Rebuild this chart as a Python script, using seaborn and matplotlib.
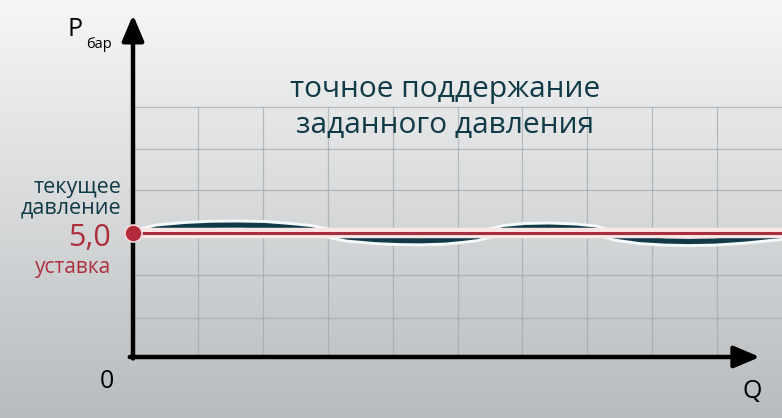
import matplotlib
matplotlib.use("Agg")
import matplotlib.pyplot as plt
import matplotlib.patheffects as pe
import numpy as np
import pandas as pd
import seaborn as sns

# Data
setpoint = 5.0
line_q = [0.0, 10.0]

wave_q = [0.11, 0.37, 0.80, 1.19, 1.60, 2.03, 2.42, 2.73, 3.00, 3.30, 3.73, 4.11,
          4.42, 4.81, 5.12, 5.30, 5.50, 5.72, 6.04, 6.41, 6.81, 7.12, 7.27, 7.43,
          7.81, 8.20, 8.57, 8.97, 9.43, 9.80, 9.97]
wave_p = [5.00, 5.16, 5.26, 5.31, 5.32, 5.30, 5.22, 5.14, 5.00, 4.84, 4.74, 4.70,
          4.69, 4.72, 4.80, 4.86, 5.00, 5.14, 5.22, 5.24, 5.20, 5.12, 5.00, 4.88,
          4.74, 4.68, 4.66, 4.68, 4.76, 4.86, 4.90]

grid_q = [1, 2, 3, 4, 5, 6, 7, 8, 9]
grid_p = [1.57, 3.31, 5.0, 6.73, 8.39, 10.08]

title_lines = ["точное поддержание", "заданного давления"]

W, H = 782, 418

sns.set_theme(style="white")
plt.rcParams["font.family"] = ["Open Sans", "DejaVu Sans"]

fig = plt.figure(figsize=(W / 100, H / 100), dpi=100)

# gradient background
bg = fig.add_axes([0, 0, 1, 1])
top = np.array([246, 246, 246]) / 255
bottom = np.array([184, 188, 191]) / 255
t = np.linspace(0, 1, 256)[:, None]
grad = top[None, :] * (1 - t) + bottom[None, :] * t
bg.imshow(grad[:, None, :], aspect="auto", extent=[0, 1, 0, 1])
bg.set_axis_off()

# plot axes, origin at pixel (133, 357)
ax = fig.add_axes([133 / W, (H - 357) / H, (W - 133) / W, 357 / H])
ax.set_xlim(0, 10)
ax.set_ylim(0, 14.4)
ax.patch.set_alpha(0)
ax.set_axis_off()

ax.vlines(grid_q, 0, 10.08, color="#9ea3a6", lw=0.9, alpha=0.65, zorder=1)
ax.hlines(grid_p, 0, 10, color="#9ea3a6", lw=0.9, alpha=0.65, zorder=1)

# actual pressure wave
sns.lineplot(x=wave_q, y=wave_p, ax=ax, sort=False, color="#123a46", lw=3.8,
             zorder=3, path_effects=[pe.Stroke(linewidth=8, foreground="#f2fafb"), pe.Normal()])

# setpoint
sns.lineplot(x=line_q, y=[setpoint, setpoint], ax=ax, color="#a8303e", lw=2.2, zorder=4,
             path_effects=[pe.Stroke(linewidth=7.5, foreground="#fbe6e6"), pe.Normal()])
ax.scatter([0], [setpoint], s=150, color="#b32b3b", edgecolor="#f4d9da", lw=1.2, zorder=6, clip_on=False)

# axis arrows
ax.annotate("", xy=(0, 13.8), xytext=(0, -0.06),
            arrowprops=dict(arrowstyle="-|>,head_length=1.3,head_width=0.55", lw=3.2,
                            color="black", shrinkA=0, shrinkB=0), annotation_clip=False, zorder=5)
ax.annotate("", xy=(9.66, 0), xytext=(-0.05, 0),
            arrowprops=dict(arrowstyle="-|>,head_length=1.3,head_width=0.55", lw=3.2,
                            color="black", shrinkA=0, shrinkB=0), annotation_clip=False, zorder=5)


def ftext(x, y, s, **kw):
    fig.text(x / W, 1 - y / H, s, **kw)


teal = "#0f3a47"
red = "#ad2f3c"
ftext(445, 89, title_lines[0], ha="center", va="center", fontsize=21.5, color=teal)
ftext(445, 126, title_lines[1], ha="center", va="center", fontsize=21.5, color=teal)

ftext(121, 188, "текущее", ha="right", va="center", fontsize=15.5, color=teal)
ftext(121, 208, "давление", ha="right", va="center", fontsize=15.5, color=teal)
ftext(111, 238, "5,0", ha="right", va="center", fontsize=22, color=red)
ftext(111, 267, "уставка", ha="right", va="center", fontsize=15, color=red)

ftext(68, 30, "P", ha="left", va="center", fontsize=18, color="black")
ftext(86, 44, "бар", ha="left", va="center", fontsize=10.5, color="black")
ftext(107, 382, "0", ha="center", va="center", fontsize=18, color="black")
ftext(752, 392, "Q", ha="center", va="center", fontsize=18, color="black")

fig.savefig("out.png", dpi=100)
